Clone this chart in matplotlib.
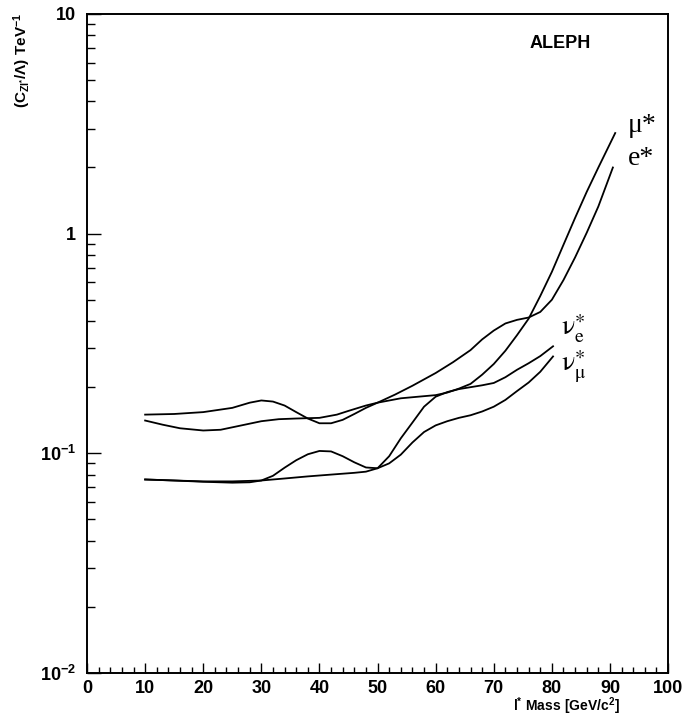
import matplotlib.pyplot as plt
import numpy as np

plt.rcParams['mathtext.fontset'] = 'custom'
plt.rcParams['mathtext.rm'] = 'Liberation Sans:bold'
plt.rcParams['mathtext.bf'] = 'Liberation Sans:bold'
plt.rcParams['mathtext.it'] = 'Liberation Sans:bold'

# curves: mass [GeV/c^2], limit [TeV^-1]
mu_x = [10, 13, 16, 20, 23, 26, 30, 33, 36, 40, 43, 45, 48, 50, 54, 57, 60, 62, 64, 66,
        68, 70, 72, 74, 76, 78, 80, 82, 84, 86, 88, 90.9]
mu_y = [0.141, 0.135, 0.130, 0.127, 0.128, 0.133, 0.140, 0.143, 0.144, 0.145, 0.150, 0.156,
        0.165, 0.170, 0.178, 0.181, 0.184, 0.189, 0.197, 0.207, 0.228, 0.255, 0.293, 0.345,
        0.41, 0.52, 0.67, 0.89, 1.18, 1.55, 2.0, 2.87]

e_x = [10, 15, 20, 25, 28, 30, 32, 34, 36, 38, 40, 42, 44, 46, 48, 50, 53, 56, 60, 63,
       66, 68, 70, 72, 74, 76, 78, 80, 82, 84, 86, 88, 90.5]
e_y = [0.150, 0.151, 0.154, 0.161, 0.170, 0.174, 0.172, 0.165, 0.154, 0.144, 0.137, 0.137,
       0.142, 0.151, 0.161, 0.170, 0.185, 0.203, 0.232, 0.26, 0.295, 0.33, 0.362, 0.39,
       0.405, 0.415, 0.44, 0.50, 0.615, 0.78, 1.01, 1.33, 2.0]

nue_x = [10, 15, 20, 25, 30, 34, 38, 42, 46, 48, 50, 52, 54, 56, 58, 60, 62, 64, 66, 68,
         70, 72, 74, 76, 78, 80.2]
nue_y = [0.076, 0.0752, 0.0745, 0.0745, 0.0752, 0.0768, 0.0785, 0.080, 0.0815, 0.0825,
         0.0855, 0.097, 0.117, 0.138, 0.163, 0.181, 0.190, 0.196, 0.200, 0.204, 0.209,
         0.222, 0.240, 0.257, 0.277, 0.307]

numu_x = [10, 15, 20, 25, 28, 30, 32, 34, 36, 38, 40, 42, 44, 46, 48, 50, 52, 54, 56, 58,
          60, 62, 64, 66, 68, 70, 72, 74, 76, 78, 80.2]
numu_y = [0.076, 0.0752, 0.0742, 0.0735, 0.0738, 0.0752, 0.079, 0.086, 0.093, 0.099,
          0.1025, 0.102, 0.097, 0.091, 0.0862, 0.0855, 0.090, 0.0986, 0.112, 0.125, 0.134,
          0.140, 0.145, 0.149, 0.155, 0.163, 0.175, 0.192, 0.210, 0.235, 0.276]

fig = plt.figure(figsize=(6.82, 7.19), dpi=100)
ax = fig.add_axes([0.1276, 0.064, 0.852, 0.9166])

for xs, ys in [(mu_x, mu_y), (e_x, e_y), (nue_x, nue_y), (numu_x, numu_y)]:
    ax.plot(xs, ys, color='black', linewidth=1.3)

ax.set_yscale('log')
ax.set_xlim(0, 100)
ax.set_ylim(0.01, 10)

ax.set_xticks(np.arange(0, 101, 10))
ax.set_xticks(np.arange(0, 101, 2), minor=True)
ax.set_xticklabels([str(v) for v in range(0, 101, 10)], fontsize=13,
                   fontfamily='Liberation Sans', fontweight='bold')
ax.set_yticks([0.01, 0.1, 1, 10])
ax.set_yticklabels([r'$\mathbf{10^{-2}}$', r'$\mathbf{10^{-1}}$', '1', '10'], fontsize=13,
                   fontfamily='Liberation Sans', fontweight='bold')

ax.tick_params(axis='x', which='major', direction='in', length=7, width=1, pad=5)
ax.tick_params(axis='x', which='minor', direction='in', length=4, width=1)
ax.tick_params(axis='y', which='major', direction='in', length=10, width=1, pad=8)
ax.tick_params(axis='y', which='minor', direction='in', length=6, width=1)
for s in ax.spines.values():
    s.set_linewidth(1.4)

# curve names
lab = dict(fontsize=20, fontfamily='Liberation Serif', color='black', va='center', ha='left')
ax.text(93.0, 3.1, 'μ*', **lab)
ax.text(93.0, 2.2, 'e*', **lab)
lab_nu = dict(fontsize=20, math_fontfamily='stix', color='black', va='center', ha='left')
ax.text(81.5, 0.37, r'$\mathrm{\nu_{e}^{\ast}}$', **lab_nu)
ax.text(81.5, 0.25, r'$\mathrm{\nu_{\mu}^{\ast}}$', **lab_nu)

ax.text(81.5, 7.3, 'ALEPH', fontsize=13, fontweight='bold', fontfamily='Liberation Sans',
        ha='center', va='center')

fig.text(0.032, 1 - 60 / 719, r'$\mathbf{(C_{Zl^{*}}/\Lambda)\ TeV^{-1}}$', rotation=90,
         fontsize=11, ha='center', va='center')
fig.text(566 / 682, 1 - 706 / 719, r'$\mathbf{l^{*}\ Mass\ [GeV/c^{2}]}$',
         fontsize=10, ha='center', va='center')

plt.savefig('out.png', dpi=100)
